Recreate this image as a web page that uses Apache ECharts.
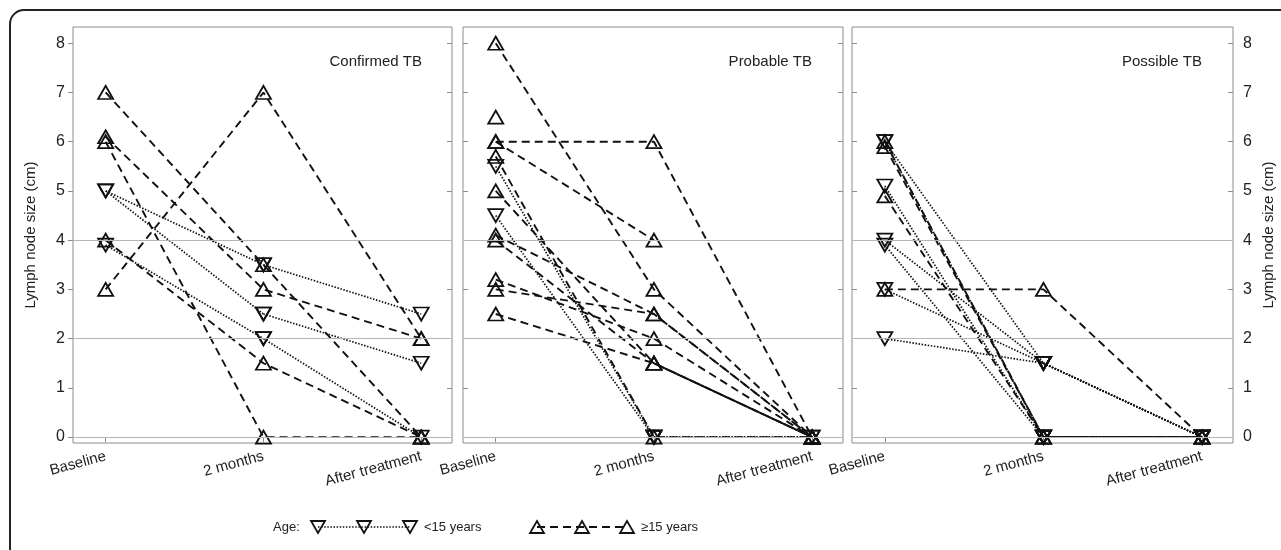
<!DOCTYPE html>
<html lang="en">
<head>
  <meta charset="UTF-8">
  <title>Lymph node size</title>
  <script src="https://cdn.jsdelivr.net/npm/echarts@6/dist/echarts.min.js"></script>
  <style>
    html, body { margin: 0; padding: 0; background: #fff; }
    #chart { width: 1281px; height: 550px; }
  </style>
</head>
<body>
  <div id="chart"></div>
  <script>
    // time points and panels
    const timeLabels = ['Baseline', '2 months', 'After treatment'];
    const panelNames = ['Confirmed TB', 'Probable TB', 'Possible TB'];
    const yTicks = [0, 1, 2, 3, 4, 5, 6, 7, 8];
    const gridLineValues = [0, 2, 4];

    // one row per patient: [baseline, 2 months, after treatment], null = not measured
    const confirmedUnder15 = [[5, 3.5, 2.5], [5, 2.5, 1.5], [3.9, 2, 0]];
    const confirmedOver15 = [[7, 3.5, 0], [6.1, 3, 2], [6, 0, 0], [4, 1.5, 0], [3, 7, 2]];

    const probableUnder15 = [[5.5, 0, 0], [4.5, 0, 0]];
    const probableOver15 = [
      [8, 3, 0], [6.5, null, null], [6, 6, 0], [6, 4, null], [5.7, 0, 0],
      [5, 1.5, 0], [4.1, 2.5, 0], [4, 1.5, 0], [3.2, 2, 0], [3, 2.5, 0], [2.5, 1.5, 0]
    ];

    const possibleUnder15 = [[6, 1.5, 0], [6, 0, 0], [5.1, 0, 0], [4, 1.5, 0], [3.9, 0, 0], [3, 1.5, 0], [2, 1.5, 0]];
    const possibleOver15 = [[6, 0, 0], [5.9, 0, 0], [4.9, 0, 0], [3, 3, 0]];

    const panelData = [
      [confirmedUnder15, confirmedOver15],
      [probableUnder15, probableOver15],
      [possibleUnder15, possibleOver15]
    ];

    const font = 'Arial, "Liberation Sans", sans-serif';
    const ink = '#111';
    const frameGrey = '#8c8c8c';
    const gridLefts = [73, 463, 852];
    const gridWidths = [379, 380, 381];
    const xMin = 0.793, xMax = 3.195;
    const yMin = -0.12, yMax = 8.33;
    const xPoints = [1, 2, 3];

    const dottedStyle = { color: ink, width: 1.7, type: [1.5, 1.6] };
    const dashedStyle = { color: ink, width: 1.9, type: [8, 5] };

    const grids = gridLefts.map((l, i) => ({
      left: l, top: 27, width: gridWidths[i], height: 416,
      show: true, borderColor: frameGrey, borderWidth: 1,
      backgroundColor: '#fff', outerBoundsMode: 'none'
    }));

    const xAxes = [];
    const yAxes = [];
    for (let p = 0; p < 3; p++) {
      xAxes.push({
        type: 'value', gridIndex: p, position: 'bottom', min: xMin, max: xMax,
        axisLine: { show: false }, splitLine: { show: false },
        axisTick: { show: true, inside: false, length: 5, customValues: xPoints, lineStyle: { color: frameGrey } },
        axisLabel: {
          customValues: xPoints, rotate: 15, margin: 13, fontSize: 15, color: '#222', fontFamily: font,
          formatter: v => timeLabels[Math.round(v) - 1]
        }
      });
      xAxes.push({
        type: 'value', gridIndex: p, position: 'top', min: xMin, max: xMax,
        axisLine: { show: false }, splitLine: { show: false },
        axisTick: { show: true, inside: true, length: 5, customValues: xPoints, lineStyle: { color: frameGrey } },
        axisLabel: { show: false }
      });
      yAxes.push({
        type: 'value', gridIndex: p, position: 'left', min: yMin, max: yMax,
        axisLine: { show: false }, splitLine: { show: false },
        axisTick: { show: true, inside: p > 0, length: 5, customValues: yTicks, lineStyle: { color: frameGrey } },
        axisLabel: { show: p === 0, customValues: yTicks, fontSize: 16, color: '#222', fontFamily: font, margin: 8 },
        name: p === 0 ? 'Lymph node size (cm)' : '',
        nameLocation: 'middle', nameRotate: 90, nameGap: 35,
        nameTextStyle: { fontSize: 15, color: '#222', fontFamily: font }
      });
      yAxes.push({
        type: 'value', gridIndex: p, position: 'right', min: yMin, max: yMax,
        axisLine: { show: false }, splitLine: { show: false },
        axisTick: { show: true, inside: true, length: 5, customValues: yTicks, lineStyle: { color: frameGrey } },
        axisLabel: { show: p === 2, customValues: yTicks, fontSize: 16, color: '#222', fontFamily: font, margin: 10 },
        name: p === 2 ? 'Lymph node size (cm)' : '',
        nameLocation: 'middle', nameRotate: 90, nameGap: 28,
        nameTextStyle: { fontSize: 15, color: '#222', fontFamily: font }
      });
    }

    function patientLine(p, young, points) {
      return {
        type: 'line', xAxisIndex: p * 2, yAxisIndex: p * 2, z: 3,
        data: points,
        symbol: 'triangle', symbolSize: [15, 13], symbolRotate: young ? 180 : 0,
        showSymbol: true, showAllSymbol: true,
        itemStyle: { color: 'rgba(255,255,255,0)', borderColor: ink, borderWidth: 1.8 },
        lineStyle: young ? dottedStyle : dashedStyle,
        emphasis: { disabled: true }
      };
    }

    const series = [];
    for (let p = 0; p < 3; p++) {
      // light reference lines
      series.push({
        type: 'line', xAxisIndex: p * 2, yAxisIndex: p * 2, data: [], z: 1, silent: true,
        markLine: {
          silent: true, symbol: 'none', label: { show: false }, animation: false,
          lineStyle: { color: '#b5b5b5', width: 1, type: 'solid' },
          data: gridLineValues.map(v => ({ yAxis: v }))
        }
      });
      panelData[p].forEach((group, g) => {
        const young = g === 0;
        group.forEach(row => {
          const pts = row.map((v, i) => [xPoints[i], v === null ? '-' : v]);
          if (young) {
            // dotted lines drawn per interval so overlapping stretches keep the same dot phase
            series.push(patientLine(p, young, pts.slice(0, 2)));
            series.push(patientLine(p, young, pts.slice(1, 3)));
          } else {
            series.push(patientLine(p, young, pts));
          }
        });
      });
    }

    const afterX = [422, 812, 1202];
    const titles = panelNames.map((t, i) => ({
      text: t, right: 1281 - afterX[i], top: 54, padding: 0,
      textStyle: { fontSize: 15, fontWeight: 'normal', color: '#222', fontFamily: font }
    }));

    // legend drawn as graphic
    const ly = 527;
    function tri(cx, cy, down) {
      const pts = down
        ? [[cx - 7, cy - 6], [cx + 7, cy - 6], [cx, cy + 6]]
        : [[cx - 7, cy + 6], [cx + 7, cy + 6], [cx, cy - 6]];
      return { type: 'polygon', shape: { points: pts }, style: { fill: 'none', stroke: ink, lineWidth: 1.8 }, z: 10 };
    }
    const legendFont = '13px ' + font;
    const graphic = [
      { type: 'rect', shape: { x: 10, y: 10, width: 1400, height: 700, r: 14 }, style: { fill: 'none', stroke: '#222', lineWidth: 2 }, z: 0 },
      { type: 'text', x: 273, y: ly, style: { text: 'Age:', font: legendFont, fill: '#222', textVerticalAlign: 'middle' }, z: 10 },
      { type: 'polyline', shape: { points: [[318, ly], [410, ly]] }, style: { stroke: ink, lineWidth: 1.7, lineDash: [1.5, 1.6] }, z: 10 },
      tri(318, ly, true), tri(364, ly, true), tri(410, ly, true),
      { type: 'text', x: 424, y: ly, style: { text: '<15 years', font: legendFont, fill: '#222', textVerticalAlign: 'middle' }, z: 10 },
      { type: 'polyline', shape: { points: [[537, ly], [627, ly]] }, style: { stroke: ink, lineWidth: 1.9, lineDash: [8, 5] }, z: 10 },
      tri(537, ly, false), tri(582, ly, false), tri(627, ly, false),
      { type: 'text', x: 641, y: ly, style: { text: '\u226515 years', font: legendFont, fill: '#222', textVerticalAlign: 'middle' }, z: 10 }
    ];

    const chart = echarts.init(document.getElementById('chart'), null, { renderer: 'canvas' });
    chart.setOption({
      animation: false,
      backgroundColor: '#fff',
      title: titles,
      grid: grids,
      xAxis: xAxes,
      yAxis: yAxes,
      series: series,
      graphic: graphic
    });
  </script>
</body>
</html>
